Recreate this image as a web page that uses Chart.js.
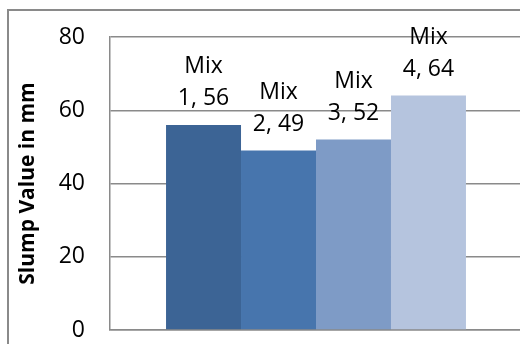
<!DOCTYPE html>
<html>
<head>
<meta charset="utf-8">
<script src="https://cdn.jsdelivr.net/npm/chart.js@4"></script>
<style>
  html, body { margin: 0; padding: 0; background: #fff; overflow: hidden; }
  #wrap { position: relative; width: 520px; height: 344px; overflow: hidden; }
  #frame { position: absolute; left: 7px; top: 9px; width: 600px; height: 400px;
           border-left: 2px solid #8a8a8a; border-top: 2px solid #8a8a8a; }
  #slump_chart { position: absolute; left: 0; top: 0; }
</style>
</head>
<body>
<div id="wrap">
  <div id="frame"></div>
  <canvas id="slump_chart" width="545" height="360"></canvas>
</div>
<script>
// slump test results, one bar per mix
var categories = ["Slump"];
var mixNames = ["Mix 1", "Mix 2", "Mix 3", "Mix 4"];
var slumpValues = [56, 49, 52, 64];
var mixColors = ["#3c6495", "#4775ad", "#7e9bc6", "#b5c4de"];
var yTicks = [0, 20, 40, 60, 80];

var datasets = [];
for (var i = 0; i < mixNames.length; i++) {
  datasets.push({
    label: mixNames[i],
    data: [slumpValues[i]],
    backgroundColor: mixColors[i],
    borderWidth: 0,
    barPercentage: 1,
    categoryPercentage: 0.728
  });
}

// "Mix" / "1, 56" labels above each bar
var barLabels = {
  id: "barLabels",
  afterDatasetsDraw: function (chart) {
    var ctx = chart.ctx;
    ctx.save();
    ctx.font = "23px 'Open Sans'";
    ctx.fillStyle = "#000";
    ctx.textAlign = "center";
    ctx.textBaseline = "middle";
    chart.data.datasets.forEach(function (ds, i) {
      var bar = chart.getDatasetMeta(i).data[0];
      var parts = ds.label.split(" ");
      var lines = [parts[0], parts[1] + ", " + ds.data[0]];
      ctx.fillText(lines[1], bar.x, bar.y - 26);
      ctx.fillText(lines[0], bar.x, bar.y - 58);
    });
    ctx.restore();
  }
};

var slump_chart = new Chart("slump_chart", {
  type: "bar",
  data: { labels: categories, datasets: datasets },
  plugins: [barLabels],
  options: {
    responsive: false,
    animation: false,
    layout: { padding: { left: 0, top: 37, right: 23, bottom: 30 } },
    plugins: {
      legend: { display: false },
      tooltip: { enabled: false }
    },
    scales: {
      x: {
        afterFit: function (scale) { scale.height = 0; },
        ticks: { display: false },
        grid: { display: false, drawTicks: false },
        border: { display: true, color: "#8a8a8a", width: 1.5 }
      },
      y: {
        min: 0,
        max: 80,
        afterBuildTicks: function (scale) {
          scale.ticks = yTicks.map(function (v) { return { value: v }; });
        },
        afterFit: function (scale) { scale.width = 110; },
        ticks: {
          padding: 0,
          color: "#000",
          font: { family: "'Open Sans'", size: 23 }
        },
        // invisible tick marks keep the labels off the axis line
        grid: { color: "#8a8a8a", lineWidth: 1.5, drawTicks: true, tickLength: 25, tickColor: "rgba(0,0,0,0)" },
        border: { display: true, color: "#8a8a8a", width: 1.5 },
        title: {
          display: true,
          text: "Slump Value in mm",
          color: "#000",
          padding: { top: 15, bottom: 0 },
          font: { family: "'Open Sans'", size: 21, weight: "bold" }
        }
      }
    }
  }
});
</script>
</body>
</html>
